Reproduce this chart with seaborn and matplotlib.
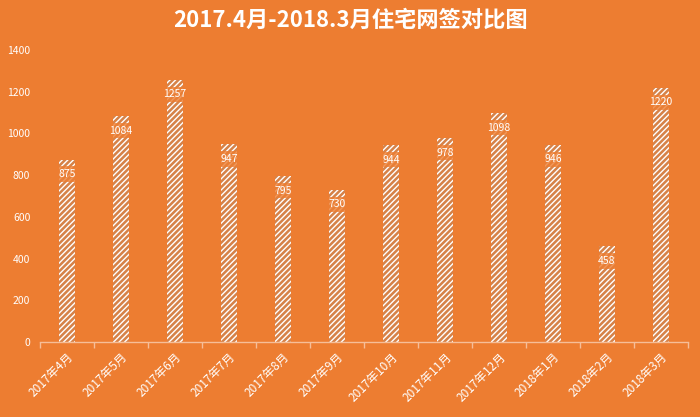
import matplotlib
matplotlib.use("Agg")
import matplotlib.pyplot as plt
import seaborn as sns
import pandas as pd

months = ["2017年4月", "2017年5月", "2017年6月", "2017年7月", "2017年8月", "2017年9月",
          "2017年10月", "2017年11月", "2017年12月", "2018年1月", "2018年2月", "2018年3月"]
values = [875, 1084, 1257, 947, 795, 730, 944, 978, 1098, 946, 458, 1220]
yticks = [0, 200, 400, 600, 800, 1000, 1200, 1400]
title = "2017.4月-2018.3月住宅网签对比图"

BG = "#ED7D31"
sns.set_theme(style="white")
plt.rcParams['font.family'] = ['Noto Sans CJK SC', 'DejaVu Sans']
plt.rcParams['hatch.linewidth'] = 1.0
plt.rcParams['hatch.color'] = 'white'

df = pd.DataFrame({"month": months, "value": values})
fig = plt.figure(figsize=(7, 4.17), dpi=100, facecolor=BG)
ax = fig.add_axes([40/700, 75/417, 648/700, 292/417])
ax.set_facecolor(BG)
sns.barplot(data=df, x="month", y="value", ax=ax, color=BG, width=0.28,
            edgecolor="white", linewidth=0, hatch="//////")
for p in ax.patches:
    p.set_hatch("//////")
    p.set_edgecolor("white")
    p.set_linewidth(0)

for i, v in enumerate(values):
    ax.text(i, v - 70, str(v), ha="center", va="center", color="white", fontsize=7.5,
            family=['Noto Sans CJK SC', 'DejaVu Sans'],
            bbox=dict(boxstyle="square,pad=0.25", facecolor=BG, alpha=0.8, edgecolor="none"))

ax.set_ylim(0, 1400)
ax.set_xlim(-0.5, 11.5)
ax.set_yticks(yticks)
ax.set_yticklabels([str(t) for t in yticks], color="white", fontsize=7.5)
ax.set_xticks(range(len(months)))
ax.set_xticklabels(months, rotation=45, ha="right", rotation_mode="anchor",
                   color="white", fontsize=8.5)
ax.set_xlabel("")
ax.set_ylabel("")
for s in ["top", "right", "left"]:
    ax.spines[s].set_visible(False)
ax.spines["bottom"].set_color("#F6BE98")
ax.spines["bottom"].set_linewidth(1)
ax.tick_params(axis="x", which="major", length=0, pad=6)
ax.tick_params(axis="y", length=0, pad=7)
ax.set_xticks([i - 0.5 for i in range(13)], minor=True)
ax.tick_params(axis="x", which="minor", bottom=True, length=4, color="#F6BE98",
               width=1, direction="out")
ax.grid(False)

fig.text(0.5, 0.952, title, ha="center", va="center", color="white",
         fontsize=16, fontweight="bold")
fig.savefig("out.png", dpi=100, facecolor=BG)
